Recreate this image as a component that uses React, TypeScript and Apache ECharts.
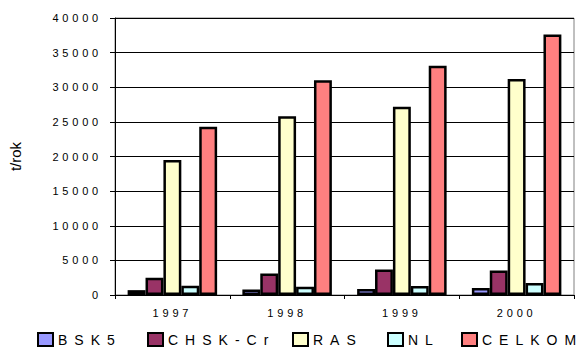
import React, { useEffect, useRef } from "react";
import * as echarts from "echarts";

// Annual loads per indicator, t/rok
const years = ["1997", "1998", "1999", "2000"];
const bsk5 = [700, 800, 850, 1000];
const chskCr = [2500, 3100, 3700, 3550];
const ras = [19500, 25800, 27200, 31200];
const nl = [1350, 1200, 1300, 1750];
const celkom = [24300, 31000, 33100, 37600];

const seriesDefs = [
  { name: "BSK5", data: bsk5, color: "#9999FF", legendLeft: 37 },
  { name: "CHSK-Cr", data: chskCr, color: "#993366", legendLeft: 147 },
  { name: "RAS", data: ras, color: "#FFFFCC", legendLeft: 292 },
  { name: "NL", data: nl, color: "#CCFFFF", legendLeft: 387 },
  { name: "CELKOM", data: celkom, color: "#FF8080", legendLeft: 461 },
];

const FONT = "Arial, 'Liberation Sans', sans-serif";

export default function App() {
  const ref = useRef<HTMLDivElement>(null);

  useEffect(() => {
    if (!ref.current) return;
    const chart = echarts.init(ref.current, undefined, { renderer: "svg" });
    chart.setOption({
      animation: false,
      backgroundColor: "#ffffff",
      textStyle: { fontFamily: FONT },
      grid: {
        left: 110,
        right: 9,
        top: 18,
        bottom: 54,
        show: true,
        borderColor: "#808080",
        borderWidth: 1,
      },
      legend: seriesDefs.map((s) => ({
        data: [s.name],
        left: s.legendLeft,
        top: 332,
        padding: 0,
        itemWidth: 15,
        itemHeight: 13,
        icon: "rect",
        selectedMode: false,
        itemStyle: { borderColor: "#000", borderWidth: 2 },
        textStyle: { fontSize: 14, color: "#000", fontFamily: FONT },
      })),
      xAxis: {
        type: "category",
        data: years,
        axisLine: { lineStyle: { color: "#000", width: 1 } },
        axisTick: { show: true, length: 4, lineStyle: { color: "#000" } },
        axisLabel: { fontSize: 11, color: "#000", margin: 12, fontFamily: FONT },
        splitLine: { show: false },
      },
      yAxis: {
        type: "value",
        min: 0,
        max: 40000,
        interval: 5000,
        name: "t/rok",
        nameLocation: "middle",
        nameGap: 92,
        nameTextStyle: { fontSize: 15, color: "#000", fontFamily: FONT },
        axisLine: { show: true, lineStyle: { color: "#000", width: 1 } },
        axisTick: { show: true, length: 5, lineStyle: { color: "#000" } },
        axisLabel: {
          fontSize: 11,
          color: "#000",
          margin: 13,
          fontFamily: FONT,
          formatter: (v: number) => String(v),
        },
        splitLine: { show: true, lineStyle: { color: "#000", width: 1 } },
      },
      series: seriesDefs.map((s) => ({
        name: s.name,
        type: "bar",
        data: s.data,
        barGap: "0%",
        barCategoryGap: "22%",
        itemStyle: { color: s.color, borderColor: "#000", borderWidth: 2.5 },
      })),
    });
    return () => chart.dispose();
  }, []);

  return (
    <>
      <style>{`
        .chart-root text[style*="11px"] { letter-spacing: 3.8px; }
        .chart-root text[style*="14px"] { letter-spacing: 7px; }
      `}</style>
      <div
        ref={ref}
        className="chart-root"
        style={{ position: "fixed", left: 0, top: 0, width: 583, height: 349 }}
      />
    </>
  );
}
